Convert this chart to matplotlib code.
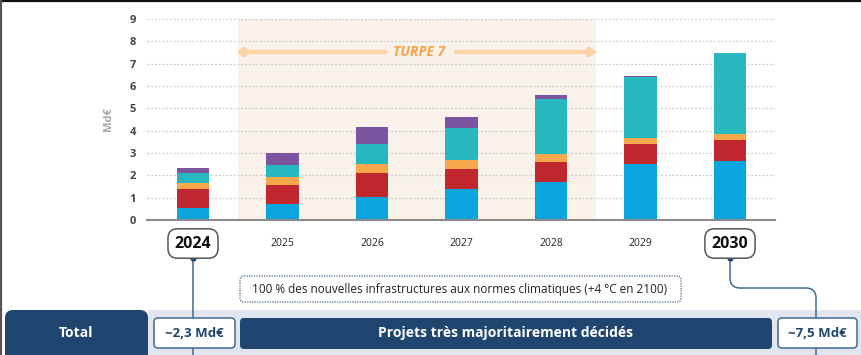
import matplotlib.pyplot as plt
import matplotlib.transforms as mtransforms
from matplotlib.patches import FancyBboxPatch, Rectangle
from matplotlib.path import Path
from matplotlib.patches import PathPatch

plt.rcParams['font.family'] = ['Open Sans', 'DejaVu Sans']

# data (Md€ per year)
years = ['2024', '2025', '2026', '2027', '2028', '2029', '2030']
blue = [0.52, 0.73, 1.03, 1.39, 1.69, 2.50, 2.63]
red = [0.86, 0.84, 1.06, 0.90, 0.90, 0.89, 0.96]
orange = [0.27, 0.36, 0.41, 0.39, 0.37, 0.30, 0.24]
teal = [0.44, 0.55, 0.89, 1.46, 2.48, 2.71, 3.64]
purple = [0.24, 0.54, 0.79, 0.47, 0.15, 0.06, 0.00]
series = [blue, red, orange, teal, purple]
colors = ['#0ba5de', '#c1272f', '#f7a84b', '#27b8bf', '#7b55a0']
yticks = list(range(0, 10))

W, H = 861, 355
fig = plt.figure(figsize=(W / 100, H / 100), dpi=100)

# overlay in pixel coordinates for the annotation boxes
ov = fig.add_axes([0, 0, 1, 1], zorder=0)
ov.set_xlim(0, W)
ov.set_ylim(H, 0)
ov.axis('off')

ax = fig.add_axes([147 / W, (H - 220) / H, (775 - 147) / W, (220 - 19) / H], zorder=1)
ax.patch.set_alpha(0)
x = list(range(len(years)))
ax.set_xlim(-0.514, 6.503)
ax.set_ylim(0, 9)

# TURPE 7 period
ax.axvspan(0.5, 4.5, color='#f8f2ea', zorder=0, lw=0)
for v in yticks[1:]:
    ax.axhline(v, color='#cccccc', lw=0.9, ls=(0, (1.5, 1.5)), zorder=1)

bottom = [0] * len(years)
for vals, c in zip(series, colors):
    ax.bar(x, vals, width=0.36, bottom=bottom, color=c, zorder=2, lw=0)
    bottom = [b + v for b, v in zip(bottom, vals)]

# arrow for TURPE 7
ax.annotate('', xy=(0.48, 7.52), xytext=(2.15, 7.52),
            arrowprops=dict(arrowstyle='-|>,head_length=0.35,head_width=0.22', color='#fcd3a6', lw=3.2,
                            shrinkA=0, shrinkB=0), zorder=3)
ax.annotate('', xy=(4.52, 7.52), xytext=(2.94, 7.52),
            arrowprops=dict(arrowstyle='-|>,head_length=0.35,head_width=0.22', color='#fcd3a6', lw=3.2,
                            shrinkA=0, shrinkB=0), zorder=3)
ax.text(2.53, 7.52, 'TURPE 7', ha='center', va='center', fontsize=10, fontweight='bold',
        fontstyle='italic', color='#f5a447', zorder=4)

for s in ['top', 'right', 'left']:
    ax.spines[s].set_visible(False)
ax.spines['bottom'].set_color('#8a8a8a')
ax.spines['bottom'].set_linewidth(1.5)
ax.set_yticks(yticks)
ax.tick_params(axis='y', length=0, labelsize=8, labelcolor='#444444', pad=8)
for t in ax.get_yticklabels():
    t.set_fontweight('bold')
ax.set_xticks([])
ax.set_ylabel('Md€', fontsize=8, color='#a8a8a8', fontweight='bold', labelpad=11)

# year labels under the bars
tr = mtransforms.blended_transform_factory(ax.transData, ov.transData)
for i, y in enumerate(years):
    if i in (0, len(years) - 1):
        ax.text(i, 243.5, y, transform=tr, ha='center', va='center', fontsize=11.5, fontweight='bold',
                color='#111111', zorder=5,
                bbox=dict(boxstyle='round,pad=0.42,rounding_size=0.6', fc='white', ec='#555555', lw=1.1))
    else:
        ax.text(i, 244, y, transform=tr, ha='center', va='center', fontsize=7.5, color='#222222')

navy = '#1f4670'
line_c = '#3f6a92'

# bottom band
ov.add_patch(Rectangle((148, 310), W - 148, 50, fc='#e3e5ee', ec='none', zorder=1))
ov.add_patch(FancyBboxPatch((5, 310), 143, 60, boxstyle='round,pad=0,rounding_size=8',
                            fc=navy, ec='none', zorder=2))
ov.text(76, 333, 'Total', ha='center', va='center', fontsize=10, fontweight='bold', color='white', zorder=3)

# connectors
ov.plot([193, 193], [258, 360], color=line_c, lw=1.1, zorder=2)
ov.plot([193], [258], 'o', color=navy, ms=3.5, zorder=6)
verts = [(730, 258), (730, 278), (730, 288), (740, 288), (806, 288), (816, 288), (816, 298), (816, 360)]
codes = [Path.MOVETO, Path.LINETO, Path.CURVE3, Path.CURVE3, Path.LINETO, Path.CURVE3, Path.CURVE3, Path.LINETO]
ov.add_patch(PathPatch(Path(verts, codes), fc='none', ec=line_c, lw=1.1, zorder=2))
ov.plot([730], [258], 'o', color=navy, ms=3.5, zorder=6)

# value boxes
for (x0, x1, label) in [(154, 235, '~2,3 Md€'), (778, 857, '~7,5 Md€')]:
    ov.add_patch(FancyBboxPatch((x0, 318), x1 - x0, 30, boxstyle='round,pad=0,rounding_size=4',
                                fc='white', ec=line_c, lw=1.1, zorder=4))
    ov.text((x0 + x1) / 2, 333.5, label, ha='center', va='center', fontsize=9.5, fontweight='bold',
            color=navy, zorder=5)

ov.add_patch(FancyBboxPatch((240, 318), 532, 31, boxstyle='round,pad=0,rounding_size=4',
                            fc=navy, ec='none', zorder=4))
ov.text(506, 333.5, 'Projets très majoritairement décidés', ha='center', va='center', fontsize=10,
        fontweight='bold', color='white', zorder=5)

# climate note
ov.add_patch(FancyBboxPatch((240, 276), 441, 26, boxstyle='round,pad=0,rounding_size=4',
                            fc='white', ec='#4a6a8a', lw=0.9, ls=(0, (1, 1)), zorder=4))
ov.text(460, 289.5, '100 % des nouvelles infrastructures aux normes climatiques (+4 °C en 2100)',
        ha='center', va='center', fontsize=8.5, color='#222222', zorder=5)

# frame lines of the screenshot
ov.plot([0, W], [0.8, 0.8], color='#111111', lw=1.6, zorder=7)
ov.plot([0.8, 0.8], [0, H], color='#555555', lw=1.6, zorder=7)

fig.savefig('out.png', dpi=100)
